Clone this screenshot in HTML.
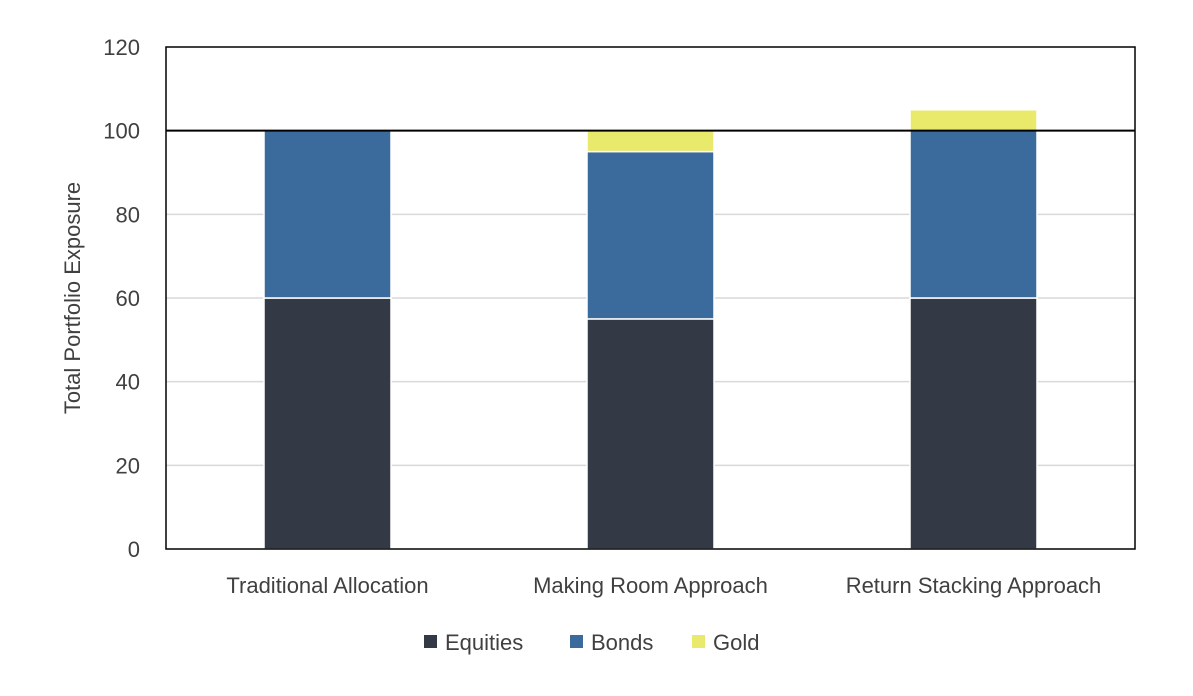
<!DOCTYPE html>
<html><head><meta charset="utf-8"><style>
body{margin:0;background:#fff;}
svg text{font-family:"Liberation Sans",sans-serif;fill:#404040;}
</style></head><body>
<svg id="chart" width="1193" height="691" xmlns="http://www.w3.org/2000/svg">
<g id="grid"></g><g id="bars"></g><g id="axes"></g>
<text x="80" y="298" font-size="22" text-anchor="middle" transform="rotate(-90 80 298)">Total Portfolio Exposure</text>
<g>
<rect x="424" y="635" width="13" height="13" fill="#343a45"/>
<text x="445" y="650" font-size="22">Equities</text>
<rect x="570" y="635" width="13" height="13" fill="#3a6b9c"/>
<text x="591" y="650" font-size="22">Bonds</text>
<rect x="692" y="635" width="13" height="13" fill="#e9e96b"/>
<text x="713" y="650" font-size="22">Gold</text>
</g>
</svg>
<script>
const categories=["Traditional Allocation","Making Room Approach","Return Stacking Approach"];
const equities=[60,55,60];
const bonds=[40,40,40];
const gold=[0,5,5];
const yTicks=[0,20,40,60,80,100,120];
const NS="http://www.w3.org/2000/svg";
const L=166,R=1135,T=47,B=549,yMax=120;
const y=v=>B-(v/yMax)*(B-T);
const band=(R-L)/categories.length;
const cx=i=>L+band*(i+0.5);
const bw=127;
function mk(tag,attrs,parent){const e=document.createElementNS(NS,tag);for(const k in attrs)e.setAttribute(k,attrs[k]);parent.appendChild(e);return e;}
const grid=document.getElementById('grid'),bars=document.getElementById('bars'),axes=document.getElementById('axes');
yTicks.forEach(t=>{
  if(t>0&&t<yMax&&t!==100){const l=mk('line',{x1:L,x2:R,y1:y(t),y2:y(t),stroke:'#d9d9d9','stroke-width':1.5},grid);
  
  }
  const tx=mk('text',{x:140,y:y(t)+8,'font-size':22,'text-anchor':'end'},axes);tx.textContent=t;
  
  
});
const series=[["equities",equities,"#343a45"],["bonds",bonds,"#3a6b9c"],["gold",gold,"#e9e96b"]];
categories.forEach((c,i)=>{
  let base=0;
  series.forEach(([n,arr,col])=>{
    const v=arr[i];if(v>0){
    const r=mk('rect',{x:cx(i)-bw/2,y:y(base+v),width:bw,height:y(base)-y(base+v),fill:col,stroke:'#fff','stroke-width':1.5},bars);
    
    }
    base+=v;
  });
  const tx=mk('text',{x:cx(i),y:593,'font-size':22,'text-anchor':'middle'},axes);tx.textContent=c;
  
  
});
const f=mk('rect',{x:L,y:T,width:R-L,height:B-T,fill:'none',stroke:'#000','stroke-width':1.5},axes);


const h=mk('line',{x1:L,x2:R,y1:y(100),y2:y(100),stroke:'#000','stroke-width':2},axes);


</script>
</body></html>
